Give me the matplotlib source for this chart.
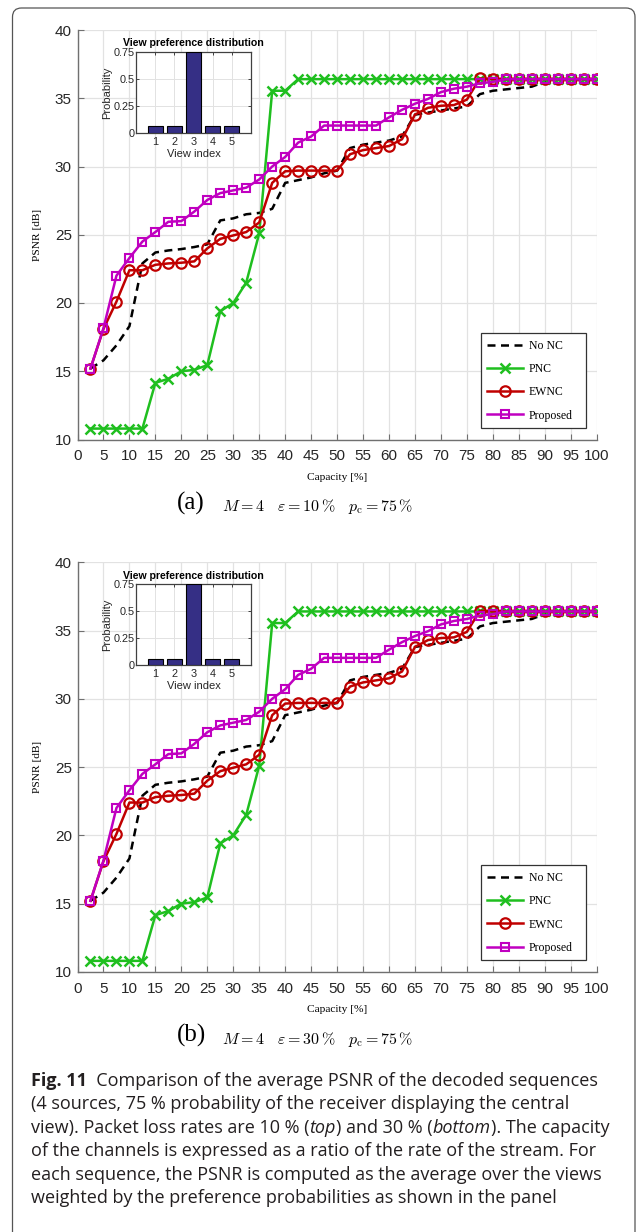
import matplotlib
matplotlib.use("Agg")
import matplotlib.pyplot as plt
from matplotlib.patches import FancyBboxPatch, Rectangle
from matplotlib.transforms import IdentityTransform
from matplotlib.lines import Line2D

# ---------------- data ----------------
capacity = [2.5, 5, 7.5, 10, 12.5, 15, 17.5, 20, 22.5, 25,
            27.5, 30, 32.5, 35, 37.5, 40, 42.5, 45, 47.5, 50,
            52.5, 55, 57.5, 60, 62.5, 65, 67.5, 70, 72.5, 75,
            77.5, 80, 82.5, 85, 87.5, 90, 92.5, 95, 97.5, 100]

psnr_no_nc = [15.2, 15.8, 16.9, 18.3, 22.9, 23.7, 23.85, 23.95, 24.1, 24.3,
              26.05, 26.2, 26.5, 26.6, 26.9, 28.8, 29.0, 29.2, 29.5, 29.7,
              31.35, 31.6, 31.75, 31.9, 32.2, 33.8, 33.95, 34.1, 34.25, 34.4,
              35.3, 35.55, 35.65, 35.75, 35.85, 36.2, 36.4, 36.4, 36.4, 36.4]

psnr_pnc = [10.8, 10.8, 10.8, 10.8, 10.8, 14.15, 14.45, 15.0, 15.1, 15.45,
            19.4, 20.0, 21.5, 25.1, 35.55, 35.55, 36.4, 36.4, 36.4, 36.4,
            36.4, 36.4, 36.4, 36.4, 36.4, 36.4, 36.4, 36.4, 36.4, 36.4,
            36.4, 36.4, 36.4, 36.4, 36.4, 36.4, 36.4, 36.4, 36.4, 36.4]

psnr_ewnc = [15.2, 18.1, 20.1, 22.4, 22.4, 22.8, 22.9, 22.95, 23.05, 24.0,
             24.7, 24.95, 25.2, 25.9, 28.8, 29.65, 29.7, 29.7, 29.7, 29.7,
             30.9, 31.2, 31.35, 31.5, 32.0, 33.8, 34.3, 34.45, 34.5, 34.9,
             36.45, 36.4, 36.4, 36.4, 36.4, 36.4, 36.4, 36.4, 36.4, 36.4]

psnr_proposed = [15.2, 18.15, 22.0, 23.3, 24.5, 25.2, 25.95, 26.0, 26.7, 27.55,
                 28.05, 28.25, 28.45, 29.05, 30.0, 30.7, 31.75, 32.2, 33.0, 33.0,
                 33.0, 33.0, 33.0, 33.6, 34.15, 34.6, 34.95, 35.45, 35.7, 35.85,
                 36.1, 36.2, 36.4, 36.4, 36.4, 36.4, 36.4, 36.4, 36.4, 36.4]

view_index = [1, 2, 3, 4, 5]
view_prob = [0.0625, 0.0625, 0.75, 0.0625, 0.0625]

panel_tags = ["(a)", "(b)"]
loss_rates = ["10", "30"]

x_ticks = list(range(0, 101, 5))
y_ticks = [10, 15, 20, 25, 30, 35, 40]

series_labels = ["No NC", "PNC", "EWNC", "Proposed"]

# ---------------- layout ----------------
W, H = 640, 1232
fig = plt.figure(figsize=(W / 100, H / 100), dpi=100)
fig.patch.set_facecolor("white")

SANS = "Liberation Sans"
SERIF = "Liberation Serif"
plt.rcParams["mathtext.fontset"] = "cm"

SPINE = "#707070"
GRID = "#e2e2e2"
TXT = "#262626"


def px_axes(left, top, right, bottom):
    return fig.add_axes([left / W, 1 - bottom / H, (right - left) / W, (bottom - top) / H])


def fpos(x, y):
    return x / W, 1 - y / H


def draw_panel(dy, tag, loss):
    ax = px_axes(77.5, 30 + dy, 596.7, 439.5 + dy)
    ax.set_xlim(0, 100)
    ax.set_ylim(10, 40)
    ax.set_xticks(x_ticks)
    ax.set_yticks(y_ticks)
    ax.grid(True, color=GRID, lw=0.9)
    ax.set_axisbelow(True)
    for s in ("top", "right"):
        ax.spines[s].set_visible(False)
    for s in ("left", "bottom"):
        ax.spines[s].set_color(SPINE)
        ax.spines[s].set_linewidth(1.0)
    ax.tick_params(direction="in", length=4, width=0.8, color=SPINE,
                   labelsize=11, labelcolor=TXT)
    ax.tick_params(axis="x", pad=7)
    ax.tick_params(axis="y", pad=4)
    for lab in ax.get_xticklabels() + ax.get_yticklabels():
        lab.set_fontfamily(SANS)

    ax.plot(capacity, psnr_no_nc, color="black", lw=1.8, ls=(0, (3.2, 2.2)))
    ax.plot(capacity, psnr_pnc, color="#1fbf1f", lw=1.8, marker="x",
            ms=7, mew=1.8)
    ax.plot(capacity, psnr_ewnc, color="#c00000", lw=1.8, marker="o",
            ms=7.5, mfc="none", mew=1.6)
    ax.plot(capacity, psnr_proposed, color="#c000c0", lw=1.8, marker="s",
            ms=5.2, mfc="none", mew=1.5)

    # legend box (frame drawn separately to get the wider right margin)
    ax.add_patch(Rectangle((0.7772, 0.0281), 0.2022, 0.2320,
                           transform=ax.transAxes, facecolor="white",
                           edgecolor="#333333", lw=0.9, zorder=4.9,
                           clip_on=False))
    handles = [
        Line2D([], [], color="black", lw=1.8, ls=(0, (3.2, 2.2))),
        Line2D([], [], color="#1fbf1f", lw=1.8, marker="x", ms=7, mew=1.8),
        Line2D([], [], color="#c00000", lw=1.8, marker="o", ms=7.5, mfc="none", mew=1.6),
        Line2D([], [], color="#c000c0", lw=1.8, marker="s", ms=5.2, mfc="none", mew=1.5),
    ]
    leg = ax.legend(handles, series_labels, loc="lower left",
                    bbox_to_anchor=(0.777, 0.028), borderaxespad=0,
                    prop={"family": SERIF, "size": 8.5},
                    frameon=False, handlelength=3.0,
                    handletextpad=0.5, labelspacing=0.95, borderpad=0.55)
    leg.set_zorder(5)

    fig.text(*fpos(37, 235 + dy), "PSNR [dB]", rotation=90, ha="center",
             va="center", family=SERIF, size=8.2)
    fig.text(*fpos(337, 477 + dy), "Capacity [%]", ha="center", va="center",
             family=SERIF, size=8.2)
    fig.text(*fpos(177, 503 + dy), tag, ha="left", va="center",
             family=SERIF, size=18)
    fig.text(*fpos(222, 507 + dy),
             r"$M = 4 \quad \varepsilon = %s\,\%%\quad p_{\mathrm{c}} = 75\,\%%$" % loss,
             ha="left", va="center", size=11.5)

    # inset: view preference distribution
    ins = px_axes(136, 52 + dy, 251, 133 + dy)
    ins.bar(view_index, view_prob, width=0.8, color="#352f85",
            edgecolor="black", lw=0.8, zorder=3)
    ins.set_xlim(0, 6)
    ins.set_ylim(0, 0.75)
    ins.set_xticks(view_index)
    ins.set_yticks([0, 0.25, 0.5, 0.75])
    ins.set_yticklabels(["0", "0.25", "0.5", "0.75"])
    ins.grid(True, color=GRID, lw=0.7)
    ins.set_axisbelow(True)
    for s in ins.spines.values():
        s.set_color("#404040")
        s.set_linewidth(0.9)
    ins.tick_params(direction="in", length=2.5, width=0.7, color="#404040",
                    labelsize=7.8, labelcolor=TXT, top=True, right=True)
    ins.tick_params(axis="y", pad=1.2)
    ins.tick_params(axis="x", pad=3)
    for lab in ins.get_xticklabels() + ins.get_yticklabels():
        lab.set_fontfamily(SANS)
    ins.set_title("View preference distribution", family=SANS, size=7.6,
                  weight="bold", pad=4)
    ins.set_xlabel("View index", family=SANS, size=8, labelpad=1, color=TXT)
    ins.set_ylabel("Probability", family=SANS, size=8, labelpad=1, color=TXT)


for i, (tag, loss) in enumerate(zip(panel_tags, loss_rates)):
    draw_panel(i * 532.3, tag, loss)

# ---------------- caption ----------------
CAP_FONT = "Open Sans"
CAP_SIZE = 13.0
caption_lines = [
    [("Fig. 11", "bold", "normal"),
     ("  Comparison of the average PSNR of the decoded sequences", "normal", "normal")],
    [("(4 sources, 75 % probability of the receiver displaying the central", "normal", "normal")],
    [("view). Packet loss rates are 10 % (", "normal", "normal"),
     ("top", "normal", "italic"),
     (") and 30 % (", "normal", "normal"),
     ("bottom", "normal", "italic"),
     ("). The capacity", "normal", "normal")],
    [("of the channels is expressed as a ratio of the rate of the stream. For", "normal", "normal")],
    [("each sequence, the PSNR is computed as the average over the views", "normal", "normal")],
    [("weighted by the preference probabilities as shown in the panel", "normal", "normal")],
]

renderer = fig.canvas.get_renderer()
x0 = 31
for k, runs in enumerate(caption_lines):
    y_base = 1086 + 23.4 * k
    x = x0
    for text, weight, style in runs:
        t = fig.text(*fpos(x, y_base), text, ha="left", va="baseline",
                     family=CAP_FONT, size=CAP_SIZE, weight=weight,
                     style=style, color="#231f20")
        x += t.get_window_extent(renderer).width

# rounded frame around the figure block
frame = FancyBboxPatch((12.5, -40), 622.5, H - 8 + 40,
                       boxstyle="round,pad=0,rounding_size=9",
                       transform=IdentityTransform(), facecolor="none",
                       edgecolor="#555555", lw=0.9)
fig.add_artist(frame)

fig.savefig("out.png", dpi=100)
